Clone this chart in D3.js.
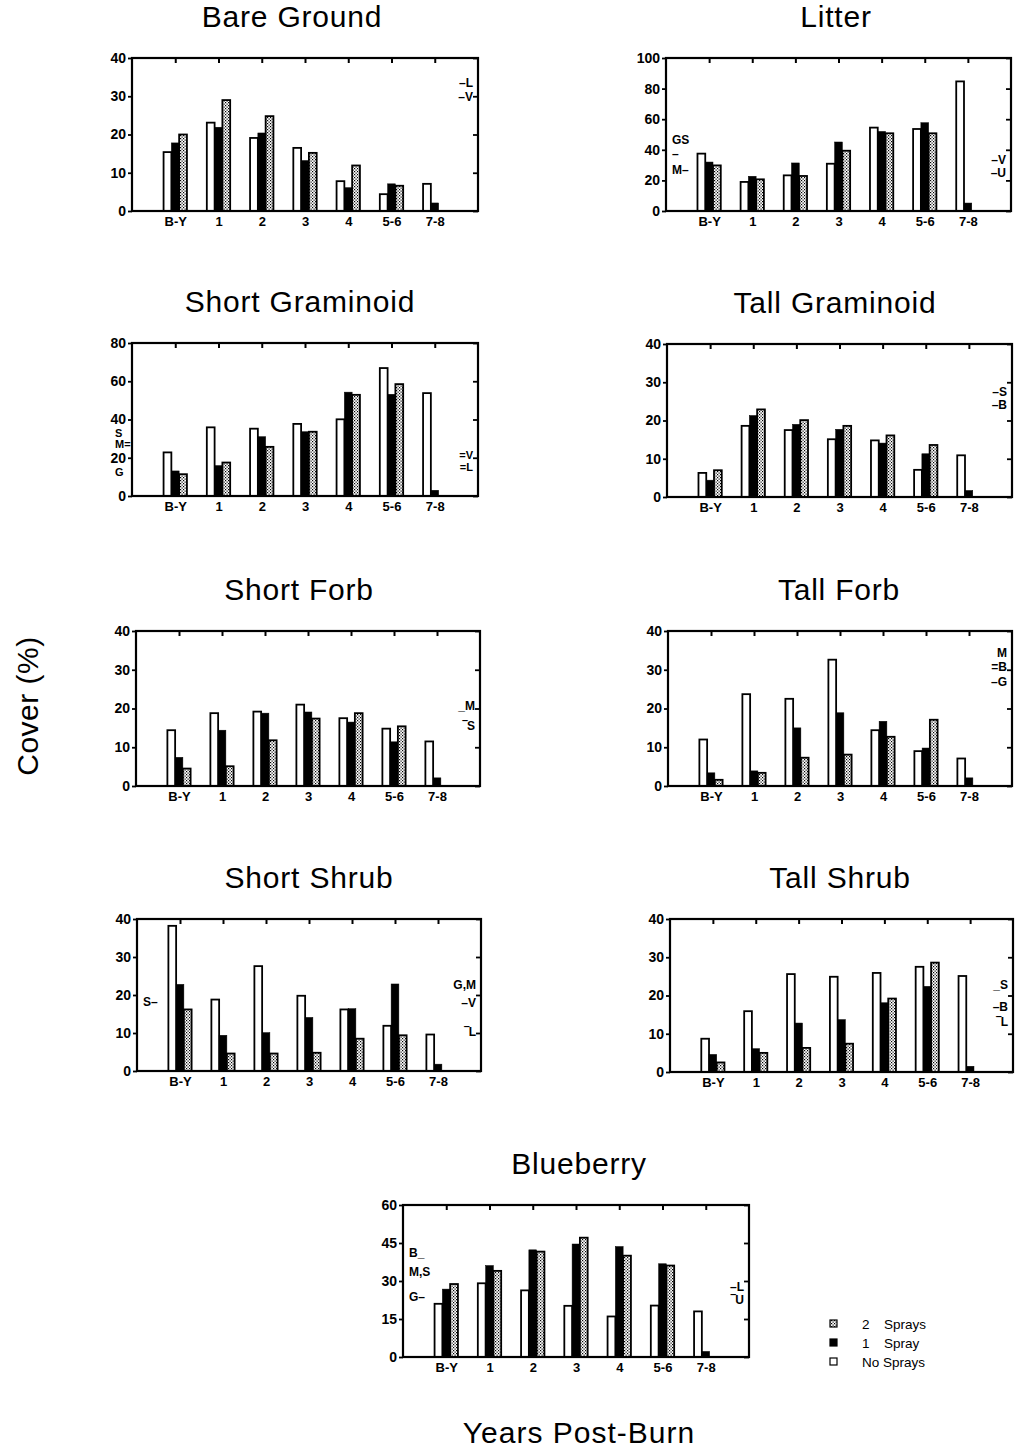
<!DOCTYPE html>
<html>
<head>
<meta charset="utf-8">
<script src="https://cdn.jsdelivr.net/npm/d3@7"></script>
<style>
  body { margin: 0; background: #fff; }
  text { font-family: "Liberation Sans", Arial, sans-serif; fill: #000; }
</style>
</head>
<body>
<div id="chart"></div>
<script>
// ── Data ────────────────────────────────────────────────────────────────────
const categories = ['B-Y', '1', '2', '3', '4', '5-6', '7-8'];
const seriesNames = ['No Sprays', '1 Spray', '2 Sprays'];

// cover (%) per year post-burn: no sprays / 1 spray / 2 sprays
const bareNone = [15.4, 23.1, 19.1, 16.5, 7.8, 4.4, 7.1];
const bareOne  = [17.8, 21.9, 20.4, 13.2, 6.1, 7.1, 2.1];
const bareTwo  = [20.0, 29.0, 24.8, 15.2, 11.9, 6.6, 0];

const litterNone = [37.5, 19.0, 23.3, 30.9, 54.5, 53.6, 84.7];
const litterOne  = [32.0, 22.7, 31.4, 45.1, 52.0, 57.7, 5.2];
const litterTwo  = [29.8, 20.7, 22.9, 39.4, 50.8, 50.8, 0];

const shortGramNone = [22.8, 35.9, 35.2, 37.7, 40.1, 66.9, 53.8];
const shortGramOne  = [13.1, 15.9, 31.0, 33.6, 54.3, 53.2, 3.0];
const shortGramTwo  = [11.4, 17.5, 25.7, 33.6, 52.9, 58.5, 0];

const tallGramNone = [6.3, 18.6, 17.5, 15.1, 14.8, 7.1, 10.9];
const tallGramOne  = [4.4, 21.3, 19.0, 17.7, 14.1, 11.3, 1.7];
const tallGramTwo  = [7.0, 22.9, 20.1, 18.6, 16.1, 13.6, 0];

const shortForbNone = [14.4, 18.8, 19.2, 21.0, 17.5, 14.8, 11.5];
const shortForbOne  = [7.4, 14.4, 18.8, 19.1, 16.5, 11.4, 2.1];
const shortForbTwo  = [4.5, 5.1, 11.8, 17.4, 18.8, 15.4, 0];

const tallForbNone = [12.0, 23.7, 22.5, 32.6, 14.4, 9.0, 7.1];
const tallForbOne  = [3.4, 3.9, 15.0, 18.9, 16.7, 9.8, 2.1];
const tallForbTwo  = [1.6, 3.4, 7.3, 8.1, 12.7, 17.1, 0];

const shortShrubNone = [38.2, 18.8, 27.6, 19.8, 16.2, 11.9, 9.6];
const shortShrubOne  = [22.8, 9.4, 10.1, 14.1, 16.4, 22.9, 1.8];
const shortShrubTwo  = [16.2, 4.6, 4.6, 4.8, 8.5, 9.4, 0];

const tallShrubNone = [8.7, 15.9, 25.6, 24.9, 25.9, 27.5, 25.1];
const tallShrubOne  = [4.6, 6.1, 12.8, 13.7, 18.1, 22.4, 1.5];
const tallShrubTwo  = [2.5, 5.0, 6.3, 7.4, 19.2, 28.6, 0];

const blueNone = [21.0, 29.1, 26.3, 20.2, 16.0, 20.3, 18.0];
const blueOne  = [26.8, 36.1, 42.3, 44.6, 43.6, 36.8, 2.2];
const blueTwo  = [28.8, 34.0, 41.6, 47.1, 40.0, 36.1, 0];

// y tick values per panel
const ticks40  = [0, 10, 20, 30, 40];
const ticks100 = [0, 20, 40, 60, 80, 100];
const ticks80  = [0, 20, 40, 60, 80];
const ticks60  = [0, 15, 30, 45, 60];

// significance letters: [text, y value, side]
const bareNotes      = [['–L', 33.5, 'R'], ['–V', 29.8, 'R']];
const litterNotes    = [['GS', 46.5, 'L'], ['–', 37.5, 'L'], ['M–', 26.8, 'L'], ['–V', 33.3, 'R'], ['–U', 24.8, 'R']];
const shortGramNotes = [['S', 33, 'LO'], ['M=', 27, 'LO'], ['G', 12.5, 'LO'], ['=V', 21.5, 'R'], ['=L', 15, 'R']];
const tallGramNotes  = [['–S', 27.5, 'R'], ['–B', 24.1, 'R']];
const shortForbNotes = [['_M', 20.6, 'R'], ['‾S', 15.5, 'R']];
const tallForbNotes  = [['M', 34.3, 'R'], ['=B', 30.7, 'R'], ['–G', 26.8, 'R']];
const shortShrubNotes = [['S–', 18.2, 'L'], ['G,M', 22.8, 'R'], ['–V', 17.9, 'R'], ['‾L', 10.3, 'R']];
const tallShrubNotes = [['_S', 22.7, 'R'], ['–B', 17.0, 'R'], ['‾L', 13.1, 'R']];
const blueNotes      = [['B_', 41.1, 'L'], ['M,S', 33.6, 'L'], ['G–', 23.7, 'L'], ['–L', 27.6, 'R'], ['‾U', 22.5, 'R']];

// ── Layout ──────────────────────────────────────────────────────────────────
const panels = [
  { title: 'Bare Ground',     tx: 292, box: [132, 58, 478, 211],   max: 40,  ticks: ticks40,  series: [bareNone, bareOne, bareTwo], notes: bareNotes },
  { title: 'Litter',          tx: 836, box: [666, 58, 1011, 211],  max: 100, ticks: ticks100, series: [litterNone, litterOne, litterTwo], notes: litterNotes },
  { title: 'Short Graminoid', tx: 300, box: [132, 343, 478, 496],  max: 80,  ticks: ticks80,  series: [shortGramNone, shortGramOne, shortGramTwo], notes: shortGramNotes },
  { title: 'Tall Graminoid',  tx: 835, box: [667, 344, 1012, 497], max: 40,  ticks: ticks40,  series: [tallGramNone, tallGramOne, tallGramTwo], notes: tallGramNotes },
  { title: 'Short Forb',      tx: 299, box: [136, 631, 480, 786],  max: 40,  ticks: ticks40,  series: [shortForbNone, shortForbOne, shortForbTwo], notes: shortForbNotes },
  { title: 'Tall Forb',       tx: 839, box: [668, 631, 1012, 786], max: 40,  ticks: ticks40,  series: [tallForbNone, tallForbOne, tallForbTwo], notes: tallForbNotes },
  { title: 'Short Shrub',     tx: 309, box: [137, 919, 481, 1071], max: 40,  ticks: ticks40,  series: [shortShrubNone, shortShrubOne, shortShrubTwo], notes: shortShrubNotes },
  { title: 'Tall Shrub',      tx: 840, box: [670, 919, 1013, 1072], max: 40, ticks: ticks40,  series: [tallShrubNone, tallShrubOne, tallShrubTwo], notes: tallShrubNotes },
  { title: 'Blueberry',       tx: 579, box: [403, 1205, 749, 1357], max: 60, ticks: ticks60,  series: [blueNone, blueOne, blueTwo], notes: blueNotes },
];

const W = 1019, H = 1450;

const svg = d3.select('#chart').append('svg')
  .attr('width', W)
  .attr('height', H);

svg.append('rect').attr('width', W).attr('height', H).attr('fill', '#fff');

// checkered fill for "2 Sprays"
const defs = svg.append('defs');
const pat = defs.append('pattern')
  .attr('id', 'check')
  .attr('patternUnits', 'userSpaceOnUse')
  .attr('width', 3).attr('height', 3);
pat.append('rect').attr('width', 3).attr('height', 3).attr('fill', '#fff');
pat.append('rect').attr('x', 0).attr('y', 0).attr('width', 1.2).attr('height', 1.2).attr('fill', '#000');
pat.append('rect').attr('x', 1.5).attr('y', 1.5).attr('width', 1.2).attr('height', 1.2).attr('fill', '#000');

const fills = ['#fff', '#000', 'url(#check)'];

panels.forEach(p => {
  const [x0, y0, x1, y1] = p.box;
  const g = svg.append('g');

  const x = d3.scalePoint().domain(categories).range([x0, x1]).padding(1);
  const y = d3.scaleLinear().domain([0, p.max]).range([y1, y0]);
  const bw = x.step() * 0.18;

  // Title
  g.append('text')
    .attr('x', p.tx).attr('y', y0 - 31)
    .attr('text-anchor', 'middle')
    .style('font-size', '30px')
    .style('letter-spacing', '0.8px')
    .text(p.title);

  // Bars
  p.series.forEach((vals, si) => {
    const rows = categories.map((c, i) => ({ c, v: vals[i] })).filter(d => d.v > 0);
    g.selectAll(null)
      .data(rows)
      .join('rect')
      .attr('x', d => x(d.c) + (si - 1.5) * bw)
      .attr('y', d => y(d.v))
      .attr('width', bw)
      .attr('height', d => y(0) - y(d.v))
      .attr('fill', fills[si])
      .attr('stroke', '#000')
      .attr('stroke-width', si === 1 ? 0.5 : 1.8);
  });

  // Frame
  g.append('rect')
    .attr('x', x0).attr('y', y0)
    .attr('width', x1 - x0).attr('height', y1 - y0)
    .attr('fill', 'none')
    .attr('stroke', '#000')
    .attr('stroke-width', 2.2);

  // Left axis
  g.append('g')
    .attr('transform', `translate(${x0},0)`)
    .call(d3.axisLeft(y).tickValues(p.ticks).tickSize(4).tickPadding(2))
    .call(ax => ax.select('.domain').remove())
    .call(ax => ax.selectAll('line').attr('stroke-width', 1.8))
    .call(ax => ax.selectAll('text').style('font-size', '14px').style('font-weight', 'bold'));

  // Right inner ticks
  g.append('g')
    .attr('transform', `translate(${x1},0)`)
    .call(d3.axisLeft(y).tickValues(p.ticks).tickSize(5).tickFormat(''))
    .call(ax => ax.select('.domain').remove())
    .call(ax => ax.selectAll('line').attr('stroke-width', 1.8));

  // Top inner ticks
  g.append('g')
    .attr('transform', `translate(0,${y0})`)
    .call(d3.axisBottom(x).tickSize(5).tickFormat(''))
    .call(ax => ax.select('.domain').remove())
    .call(ax => ax.selectAll('line').attr('stroke-width', 2));

  // Bottom labels
  g.append('g')
    .attr('transform', `translate(0,${y1})`)
    .call(d3.axisBottom(x).tickSize(0).tickPadding(6))
    .call(ax => ax.select('.domain').remove())
    .call(ax => ax.selectAll('text').style('font-size', '13px').style('font-weight', 'bold'));

  // Significance letters
  g.selectAll(null)
    .data(p.notes)
    .join('text')
    .attr('x', d => d[2] === 'R' ? x1 - 5 : d[2] === 'L' ? x0 + 6 : x0 - 17)
    .attr('y', d => y(d[1]))
    .attr('dy', '0.35em')
    .attr('text-anchor', d => d[2] === 'R' ? 'end' : 'start')
    .style('font-size', p.title === 'Short Graminoid' ? '11px' : '12px')
    .style('font-weight', 'bold')
    .text(d => d[0]);
});

// Axis titles
svg.append('text')
  .attr('transform', 'translate(38,706) rotate(-90)')
  .attr('text-anchor', 'middle')
  .style('font-size', '30px')
  .style('letter-spacing', '0.5px')
  .text('Cover (%)');

svg.append('text')
  .attr('x', 579).attr('y', 1443)
  .attr('text-anchor', 'middle')
  .style('font-size', '30px')
  .style('letter-spacing', '1px')
  .text('Years Post-Burn');

// Legend
const legendRows = [
  { num: '2', word: 'Sprays', fill: fills[2] },
  { num: '1', word: 'Spray', fill: fills[1] },
  { num: '', word: 'No Sprays', fill: fills[0] },
];
const ly = d3.scalePoint().domain(legendRows.map(d => d.word)).range([1324, 1362]);
const leg = svg.append('g');
legendRows.forEach(d => {
  leg.append('rect')
    .attr('x', 830).attr('y', ly(d.word) - 4)
    .attr('width', 7).attr('height', 7)
    .attr('fill', d.fill).attr('stroke', '#000').attr('stroke-width', 1.2);
  if (d.num) {
    leg.append('text').attr('x', 862).attr('y', ly(d.word)).attr('dy', '0.35em')
      .style('font-size', '13.5px').text(d.num);
  }
  leg.append('text').attr('x', d.num ? 884 : 862).attr('y', ly(d.word)).attr('dy', '0.35em')
    .style('font-size', '13.5px').text(d.word);
});
</script>
</body>
</html>
